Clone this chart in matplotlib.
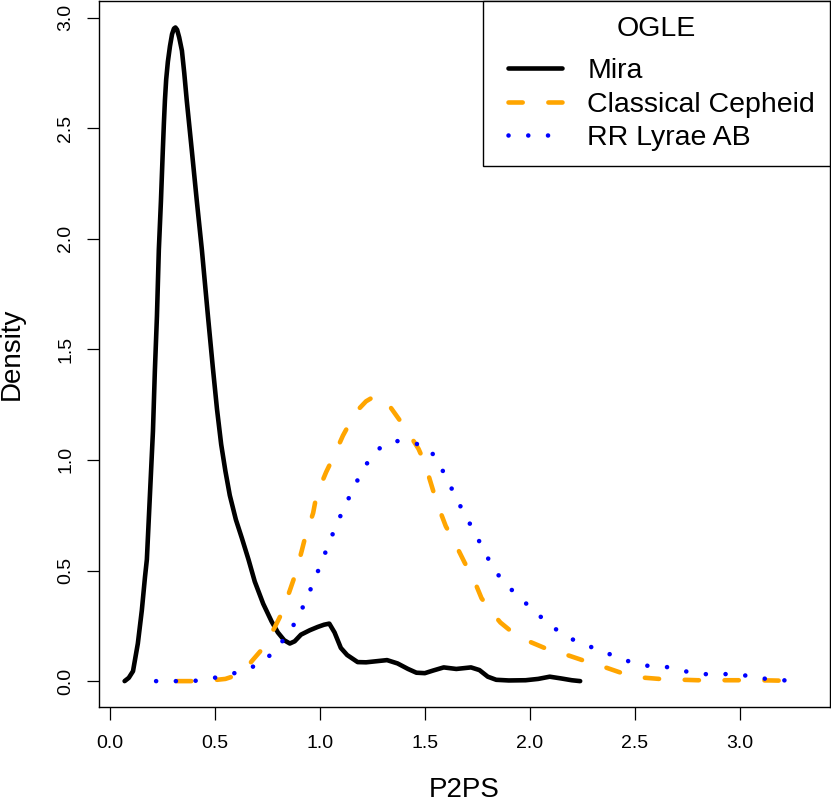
import matplotlib
matplotlib.use('Agg')
import matplotlib.pyplot as plt
from matplotlib.legend_handler import HandlerLine2D

plt.rcParams['font.family'] = ['Liberation Sans', 'DejaVu Sans']

# density curves
mira_x = [0.07, 0.09, 0.11, 0.133, 0.152, 0.167, 0.176, 0.19, 0.205, 0.214, 0.224, 0.233,
          0.243, 0.252, 0.257, 0.262, 0.268, 0.276, 0.286, 0.296, 0.305, 0.312, 0.32, 0.33,
          0.343, 0.354, 0.366, 0.39, 0.414, 0.438, 0.467, 0.49, 0.51, 0.53, 0.55, 0.571,
          0.60, 0.629, 0.66, 0.69, 0.73, 0.77, 0.80, 0.83, 0.857, 0.88, 0.91, 0.952, 0.99,
          1.02, 1.045, 1.07, 1.10, 1.13, 1.18, 1.22, 1.27, 1.32, 1.37, 1.42, 1.46, 1.50,
          1.54, 1.59, 1.65, 1.72, 1.76, 1.80, 1.84, 1.90, 1.98, 2.04, 2.095, 2.15, 2.20, 2.24]
mira_y = [0.0, 0.015, 0.045, 0.17, 0.32, 0.47, 0.55, 0.83, 1.13, 1.40, 1.65, 1.95,
          2.17, 2.40, 2.52, 2.625, 2.72, 2.80, 2.87, 2.925, 2.95, 2.955, 2.945, 2.91,
          2.85, 2.75, 2.625, 2.40, 2.17, 1.95, 1.65, 1.42, 1.23, 1.07, 0.95, 0.84,
          0.73, 0.645, 0.55, 0.45, 0.35, 0.27, 0.22, 0.185, 0.17, 0.18, 0.21, 0.23, 0.245,
          0.255, 0.26, 0.22, 0.15, 0.118, 0.086, 0.085, 0.09, 0.095, 0.08, 0.055, 0.038, 0.036,
          0.048, 0.062, 0.055, 0.062, 0.05, 0.02, 0.006, 0.003, 0.004, 0.01, 0.02, 0.012, 0.004, 0.0]

ceph_x = [0.32, 0.40, 0.48, 0.55, 0.605, 0.645, 0.68, 0.73, 0.786, 0.82, 0.857, 0.886,
          0.914, 0.93, 0.968, 0.984, 1.03, 1.063, 1.11, 1.15, 1.19, 1.22, 1.25, 1.27,
          1.29, 1.32, 1.365, 1.41, 1.47, 1.5, 1.54, 1.56, 1.6, 1.635, 1.69, 1.73, 1.77,
          1.82, 1.86, 1.905, 1.97, 2.07, 2.15, 2.25, 2.33, 2.44, 2.51, 2.63, 2.8, 3.0,
          3.15, 3.3]
ceph_y = [0.0, 0.0, 0.003, 0.01, 0.027, 0.055, 0.095, 0.15, 0.245, 0.31, 0.41, 0.49,
          0.59, 0.65, 0.76, 0.84, 0.945, 1.01, 1.11, 1.18, 1.235, 1.265, 1.282, 1.285,
          1.283, 1.26, 1.20, 1.14, 1.05, 0.985, 0.86, 0.80, 0.70, 0.64, 0.535, 0.467, 0.375,
          0.31, 0.265, 0.23, 0.19, 0.15, 0.127, 0.095, 0.072, 0.036, 0.018, 0.009, 0.004, 0.004,
          0.003, 0.0]

rr_x = [0.22, 0.32, 0.42, 0.515, 0.61, 0.70, 0.777, 0.838, 0.89, 0.93, 0.968, 1.005,
        1.04, 1.076, 1.116, 1.158, 1.2, 1.253, 1.30, 1.35, 1.40, 1.45, 1.49, 1.518,
        1.567, 1.613, 1.654, 1.7, 1.747, 1.79, 1.838, 1.9, 1.972, 2.043, 2.115, 2.2,
        2.29, 2.38, 2.47, 2.567, 2.66, 2.757, 2.852, 2.948, 3.043, 3.138, 3.27]
rr_y = [0.0, 0.0, 0.002, 0.018, 0.04, 0.072, 0.127, 0.2, 0.276, 0.357, 0.443, 0.53,
        0.615, 0.70, 0.785, 0.867, 0.948, 1.026, 1.065, 1.085, 1.085, 1.075, 1.065, 1.055,
        0.985, 0.9, 0.818, 0.737, 0.655, 0.574, 0.493, 0.425, 0.36, 0.298, 0.24, 0.19,
        0.155, 0.122, 0.09, 0.068, 0.063, 0.041, 0.03, 0.032, 0.024, 0.008, 0.0]

labels = ['Mira', 'Classical Cepheid', 'RR Lyrae AB']
x_ticks = [0.0, 0.5, 1.0, 1.5, 2.0, 2.5, 3.0]
y_ticks = [0.0, 0.5, 1.0, 1.5, 2.0, 2.5, 3.0]

fig = plt.figure(figsize=(8.31, 8.01), dpi=100)
ax = fig.add_axes([99 / 831, 1 - 707 / 801, 731 / 831, 706.5 / 801])

lw = 3.3
ax.plot(mira_x, mira_y, color='black', lw=lw, solid_capstyle='round',
        solid_joinstyle='round', label=labels[0])
ax.plot(ceph_x, ceph_y, color='orange', lw=lw, linestyle=(0, (3.1, 5.6)),
        dash_capstyle='round', dash_joinstyle='round', label=labels[1])
ax.plot(rr_x, rr_y, color='blue', lw=lw, linestyle=(0, (0.01, 4.3)),
        dash_capstyle='round', label=labels[2])

ax.set_xlim(-0.052, 3.43)
ax.set_ylim(-0.117, 3.077)
ax.set_xticks(x_ticks)
ax.set_yticks(y_ticks)
ax.set_xticklabels([f'{t:.1f}' for t in x_ticks])
ax.set_yticklabels([f'{t:.1f}' for t in y_ticks])

for s in ax.spines.values():
    s.set_linewidth(1.0)
ax.tick_params(direction='out', length=9, width=0.9, labelsize=14)
ax.tick_params(axis='x', pad=11)
ax.tick_params(axis='y', pad=9, labelrotation=90)
for lab in ax.get_yticklabels():
    lab.set_va('center')

ax.set_xlabel('P2PS', fontsize=20, labelpad=18)
ax.set_ylabel('Density', fontsize=20, labelpad=23)

# R-style legend: handle shifted right inside its slot
fs = 20.5
leg = ax.legend(title='OGLE', loc='upper right', fontsize=fs, title_fontsize=fs,
                frameon=True, fancybox=False, framealpha=1, edgecolor='black',
                borderaxespad=0, borderpad=0.53, handlelength=2.25, handletextpad=0.88,
                labelspacing=0.26, handler_map={plt.Line2D: HandlerLine2D(xpad=0.35)})
leg.get_frame().set_linewidth(1.0)
leg._legend_box.sep = 12

fig.savefig('out.png', dpi=100)
